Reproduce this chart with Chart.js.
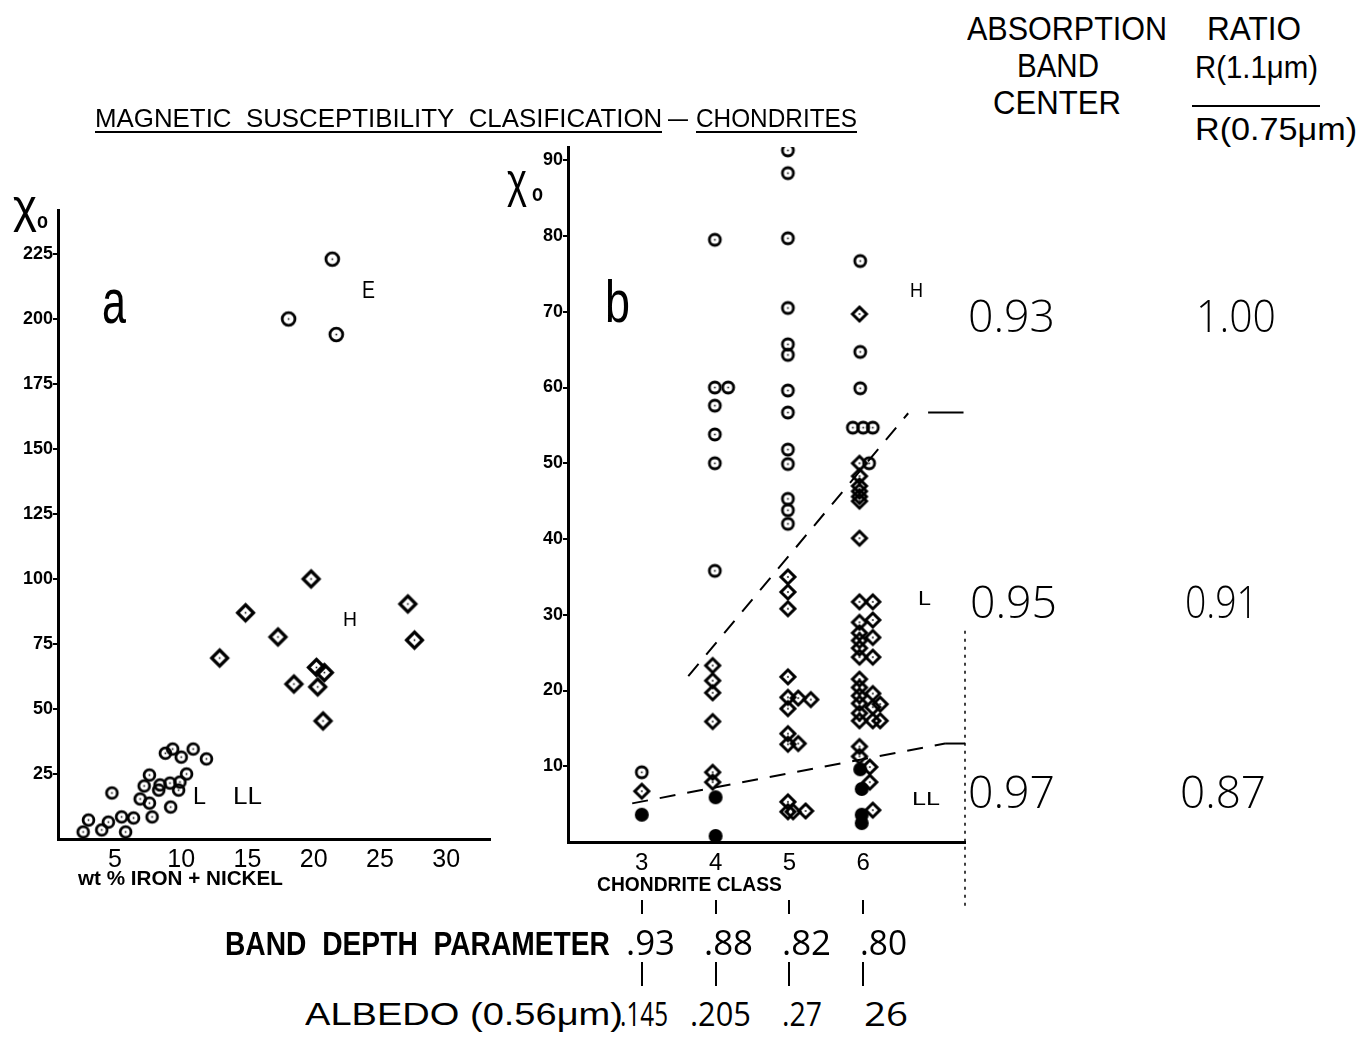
<!DOCTYPE html>
<html>
<head>
<meta charset="utf-8">
<style>
	body { margin: 0; background: #fff; }
	#page { position: relative; width: 1361px; height: 1037px; overflow: hidden; background: #fff;
		font-family: "Liberation Sans", Arial, sans-serif; color: #000; }
	.lbl { position: absolute; white-space: nowrap; line-height: 1; transform-origin: 0 0; }
	.bar { position: absolute; background: #000; }
	canvas { position: absolute; }
</style>
</head>
<body>
<div id="page">
	<canvas id="chartA" style="left:0;top:0;width:500px;height:900px" width="500" height="900"></canvas>
	<canvas id="chartB" style="left:480px;top:130px;width:500px;height:790px" width="500" height="790"></canvas>
</div>

<script src="https://cdn.jsdelivr.net/npm/chart.js"></script>
<script>

	// ---- panel a : wt% iron + nickel vs susceptibility ----
	const aTicksX = [5, 10, 15, 20, 25, 30];
	const aTicksY = [25, 50, 75, 100, 125, 150, 175, 200, 225];

	const aE_fe  = [21.4, 18.1, 21.7];
	const aE_chi = [223, 200, 194];

	const aH_fe  = [19.8, 14.85, 17.3, 12.9, 18.5, 20.2, 20.8, 20.3, 20.7, 27.1, 27.6];
	const aH_chi = [100, 87, 77.7, 69.6, 59.6, 66, 64, 58.5, 45.4, 90.4, 76.5];

	const aL_fe  = [4.77, 2.6, 3.0, 4.0, 4.5, 5.5, 5.8, 6.4, 6.9, 7.2, 7.6, 7.6, 7.8,
		8.3, 8.4, 9.15, 9.2, 9.8, 9.9, 10.4, 8.8, 9.35, 10.0, 10.9, 11.9];
	const aL_chi = [17.7, 2.7, 7.3, 3.5, 6.5, 8.5, 2.7, 8.1, 15.4, 20.4, 24.6, 13.8, 8.5,
		18.8, 20.8, 21.5, 12.3, 18.8, 21.9, 25, 33, 34.6, 31.5, 34.6, 30.8];

	// ---- panel b : chondrite class vs susceptibility ----
	const bTicksX = [3, 4, 5, 6];
	const bTicksY = [10, 20, 30, 40, 50, 60, 70, 80, 90];

	// H (open circles)
	const bH_cls = [3.0,
		3.99, 3.99, 4.17, 3.99, 3.99, 3.99, 3.99,
		4.98, 4.98, 4.98, 4.98, 4.98, 4.98, 4.98, 4.98, 4.98, 4.98, 4.98, 4.98, 4.98,
		5.96, 5.96, 5.96, 5.86, 6.0, 6.13, 6.08];
	const bH_chi = [9.2,
		79.5, 60, 60, 57.6, 53.8, 50, 35.8,
		91.3, 88.3, 79.7, 70.5, 65.7, 64.3, 59.6, 56.7, 51.8, 49.9, 45.3, 43.8, 42,
		76.7, 64.7, 59.9, 54.7, 54.7, 54.7, 50];

	// L (open diamonds)
	const bL_cls = [3.0,
		3.96, 3.96, 3.96, 3.96, 3.96, 3.96,
		4.98, 4.98, 4.98, 4.98, 4.98, 4.98, 4.98, 4.98, 4.98, 4.98,
		5.12, 5.29, 5.12, 5.05, 5.22,
		5.95, 5.95, 5.95, 5.95, 5.95, 5.95, 5.95, 5.95, 5.95, 5.95, 5.95,
		5.95, 5.95, 5.95, 5.95, 5.95, 5.95, 5.95, 5.95, 5.95, 5.95, 5.95,
		6.13, 6.13, 6.13, 6.13, 6.13, 6.13, 6.13, 6.13,
		6.23, 6.23, 6.09, 6.09];
	const bL_chi = [6.7,
		23.3, 21.3, 19.7, 15.9, 9.2, 7.9,
		35, 33, 30.8, 21.8, 19.1, 17.6, 14.3, 12.9, 5.3, 4.0,
		19.0, 18.8, 13.0, 4.0, 4.1,
		69.7, 50, 48.3, 47, 46.3, 45.6, 45, 40.1, 31.7, 29, 27.6,
		26.6, 25.6, 24.4, 21.5, 20.4, 19.3, 18.3, 17, 16, 12.6, 11.3,
		31.7, 29.3, 27, 24.4, 19.6, 17.8, 16, 4.2,
		18.2, 16, 9.9, 7.9];

	// LL (filled circles)
	const bLL_cls = [3.0, 4.0, 4.0, 5.96, 5.98, 5.98, 5.98];
	const bLL_chi = [3.6, 5.9, 0.8, 9.6, 7.0, 3.6, 2.5];

	// group boundaries
	const bUpper_cls = [3.63, 6.61];
	const bUpper_chi = [21.9, 56.6];
	const bUpperShelf_cls = [6.88, 7.36];
	const bUpperShelf_chi = [56.7, 56.7];
	const bLower_cls = [2.87, 7.11];
	const bLower_chi = [5.1, 13.0];
	const bLowerShelf_cls = [7.11, 7.38];
	const bLowerShelf_chi = [13.0, 13.0];
	const bEdge_cls = [7.38, 7.38];
	const bEdge_chi = [27.9, -8.4];

	// table values
	const bandCenter = ['0.93', '0.95', '0.97'];
	const ratioVal   = ['1.00', '0.91', '0.87'];
	const bandDepth  = ['.93', '.88', '.82', '.80'];
	const albedo     = ['.145', '.205', '.27', '26'];

	const zip = (xs, ys) => xs.map((x, i) => ({ x: x, y: ys[i] }));

	function marker(shape, r, lw, filled) {
		const c = document.createElement('canvas');
		const s = Math.ceil(2 * (r + lw)) + 2;
		c.width = c.height = s;
		const g = c.getContext('2d');
		const m = s / 2;
		g.strokeStyle = '#000';
		g.fillStyle = '#000';
		g.lineWidth = lw;
		g.beginPath();
		if (shape == 'diamond') {
			g.moveTo(m, m - r); g.lineTo(m + r, m); g.lineTo(m, m + r); g.lineTo(m - r, m); g.closePath();
		} else {
			g.arc(m, m, r, 0, Math.PI * 2);
		}
		if (filled) {
			g.fill();
		} else {
			g.stroke();
			g.fillRect(m - 0.8, m - 0.8, 1.6, 1.6);
		}
		return c;
	}

	const tickFont = { family: '"Liberation Sans", Arial, sans-serif' };

	function pts(data, style) {
		return { data: data, pointStyle: style, pointRadius: 6, showLine: false };
	}
	function seg(data, dash, width) {
		return { data: data, showLine: true, borderColor: '#000', borderWidth: width || 2,
			borderDash: dash, pointRadius: 0, fill: false, clip: false };
	}

	const commonPlugins = { legend: { display: false }, tooltip: { enabled: false } };

	new Chart(document.getElementById('chartA'), {
		type: 'scatter',
		data: {
			datasets: [
				pts(zip(aL_fe, aL_chi), marker('circle', 5.4, 2.8)),
				pts(zip(aH_fe, aH_chi), marker('diamond', 8, 3.2)),
				pts(zip(aE_fe, aE_chi), marker('circle', 6.4, 2.8)),
			]
		},
		options: {
			responsive: false, animation: false, events: [],
			plugins: commonPlugins,
			layout: { padding: { left: 0, top: 210, right: 10, bottom: 21 } },
			scales: {
				x: {
					type: 'linear', min: 0.7, max: 33.3,
					afterBuildTicks: s => { s.ticks = aTicksX.map(v => ({ value: v })) },
					afterFit: s => { s.height = 40 },
					grid: { display: false, drawTicks: false },
					border: { color: '#000', width: 3 },
					ticks: { color: '#000', padding: 6, maxRotation: 0, autoSkip: false,
						font: Object.assign({ size: 25 }, tickFont) }
				},
				y: {
					type: 'linear', min: 0, max: 241.9,
					afterBuildTicks: s => { s.ticks = aTicksY.map(v => ({ value: v })) },
					afterFit: s => { s.width = 58 },
					grid: { drawOnChartArea: false, tickLength: 5, color: '#000', lineWidth: 2 },
					border: { color: '#000', width: 3 },
					ticks: { color: '#000', padding: 0, font: Object.assign({ size: 18, weight: 'bold' }, tickFont) }
				}
			}
		}
	});

	const chartB = new Chart(document.getElementById('chartB'), {
		type: 'scatter',
		data: {
			datasets: [
				pts(zip(bH_cls, bH_chi), marker('circle', 5.5, 2.8)),
				pts(zip(bL_cls, bL_chi), marker('diamond', 7, 3)),
				pts(zip(bLL_cls, bLL_chi), marker('circle', 7, 0, true)),
				seg(zip(bUpper_cls, bUpper_chi), [16, 12]),
				seg(zip(bUpperShelf_cls, bUpperShelf_chi), []),
				seg(zip(bLower_cls, bLower_chi), [16, 12]),
				seg(zip(bLowerShelf_cls, bLowerShelf_chi), []),
				seg(zip(bEdge_cls, bEdge_chi), [3, 5], 1.5),
			]
		},
		options: {
			responsive: false, animation: false, events: [],
			plugins: commonPlugins,
			layout: { padding: { left: 0, top: 17, right: 15, bottom: 38 } },
			scales: {
				x: {
					type: 'linear', min: 2.0, max: 7.38,
					afterBuildTicks: s => { s.ticks = bTicksX.map(v => ({ value: v })) },
					afterFit: s => { s.height = 40 },
					grid: { display: false, drawTicks: false },
					border: { color: '#000', width: 3 },
					ticks: { color: '#000', padding: 7, maxRotation: 0, autoSkip: false,
						font: Object.assign({ size: 24 }, tickFont) }
				},
				y: {
					type: 'linear', min: 0, max: 91.75,
					afterBuildTicks: s => { s.ticks = bTicksY.map(v => ({ value: v })) },
					afterFit: s => { s.width = 88 },
					grid: { drawOnChartArea: false, tickLength: 5, color: '#000', lineWidth: 2 },
					border: { color: '#000', width: 3 },
					ticks: { color: '#000', padding: 0, font: Object.assign({ size: 18, weight: 'bold' }, tickFont) }
				}
			}
		}
	});

	// ---- lettering ----
	const page = document.getElementById('page');

	// x, cap top, cap bottom, target width; ratio = measured height / em, lead = gap above it / em
	function put(html, x, top, bottom, width, o) {
		o = o || {};
		const el = document.createElement('div');
		el.className = 'lbl';
		el.innerHTML = html;
		const ratio = o.ratio || 0.716;
		const lead = o.lead != null ? o.lead : 0.1305;
		const size = (bottom - top) / ratio;
		el.style.fontSize = size.toFixed(1) + 'px';
		el.style.fontWeight = o.weight || 'normal';
		if (o.family) el.style.fontFamily = o.family;
		el.style.left = x + 'px';
		el.style.top = (top - lead * size).toFixed(1) + 'px';
		page.appendChild(el);
		if (width) {
			const w = el.getBoundingClientRect().width;
			el.style.transform = 'scaleX(' + (width / w).toFixed(3) + ')';
		}
		return el;
	}
	function bar(x, y, w, h) {
		const d = document.createElement('div');
		d.className = 'bar';
		d.style.left = x + 'px'; d.style.top = y + 'px';
		d.style.width = w + 'px'; d.style.height = h + 'px';
		page.appendChild(d);
	}

	const openSans = '"Open Sans", "Liberation Sans", sans-serif';
	const light = { family: openSans, weight: 300, ratio: 0.714, lead: 0.174 };
	const plain = { family: openSans, weight: 400, ratio: 0.714, lead: 0.174 };

	// title
	put('MAGNETIC&nbsp; SUSCEPTIBILITY&nbsp; CLASIFICATION', 95, 108, 127, 567);
	put('–', 668, 108, 127, 20);
	put('CHONDRITES', 696, 108, 127, 161);
	bar(95, 131, 567, 2);
	bar(696, 131, 161, 2);

	// right-hand headings
	put('ABSORPTION', 967, 16, 40, 200);
	put('BAND', 1017, 53, 77, 82);
	put('CENTER', 993, 90, 114, 128);
	put('RATIO', 1207, 16, 40, 94);
	put('R(1.1&mu;m)', 1195, 55, 78, 123);
	bar(1192, 105, 128, 2);
	put('R(0.75&mu;m)', 1195, 117, 140, 162);

	// panel a
	put('&chi;', 13, 198, 222, 24, { ratio: 0.52, lead: 0.33 });
	put('o', 37, 217, 228, 11, { ratio: 0.52, lead: 0.33, weight: 'bold' });
	put('a', 102, 290, 323, 24, { ratio: 0.519, lead: 0.3275 });
	put('E', 362, 282, 299, 13);
	put('H', 343, 613, 627, 14);
	put('L', 193, 788, 805, 13);
	put('LL', 233, 788, 805, 29);
	put('wt % IRON + NICKEL', 78, 871, 886, 205, { weight: 'bold' });

	// panel b
	put('&chi;', 507, 172, 197, 20, { ratio: 0.52, lead: 0.33 });
	put('o', 532, 190, 202, 11, { ratio: 0.52, lead: 0.33, weight: 'bold' });
	put('b', 605, 280, 323, 25, { ratio: 0.73, lead: 0.117 });
	put('H', 910, 283, 298, 13);
	put('L', 918, 592, 606, 13);
	put('LL', 912, 792, 805, 28);
	put('CHONDRITE CLASS', 597, 877, 892, 185, { weight: 'bold' });

	// rows under panel b, placed at the class positions of its x axis
	const xs = chartB.scales.x;
	const cl = bTicksX.map(c => 480 + xs.getPixelForValue(c));
	cl.forEach(px => { bar(px - 1, 900, 2, 14); bar(px - 1, 962, 2, 24); });

	put('BAND&nbsp; DEPTH&nbsp; PARAMETER', 225, 931, 955, 385, { weight: 'bold' });
	const depthLeft = [626, 704, 782, 860];
	const depthWidth = [49, 49, 49, 47];
	bandDepth.forEach((t, i) => put(t, depthLeft[i], 930, 955, depthWidth[i], plain));

	put('ALBEDO (0.56&mu;m)', 305, 1004, 1026, 318);
	const albLeft = [620, 690, 782, 864];
	const albWidth = [48, 61, 40, 44];
	albedo.forEach((t, i) => put(t, albLeft[i], 1003, 1027, albWidth[i], plain));

	// table on the right
	const rowTop = [301, 587, 777];
	const centerLeft = [968, 970, 968];
	const ratioLeft = [1196, 1185, 1180];
	const ratioWidth = [80, 73, 86];
	bandCenter.forEach((t, i) => put(t, centerLeft[i], rowTop[i], rowTop[i] + 32, 87, light));
	ratioVal.forEach((t, i) => put(t, ratioLeft[i], rowTop[i], rowTop[i] + 32, ratioWidth[i], light));

</script>
</body>
</html>
